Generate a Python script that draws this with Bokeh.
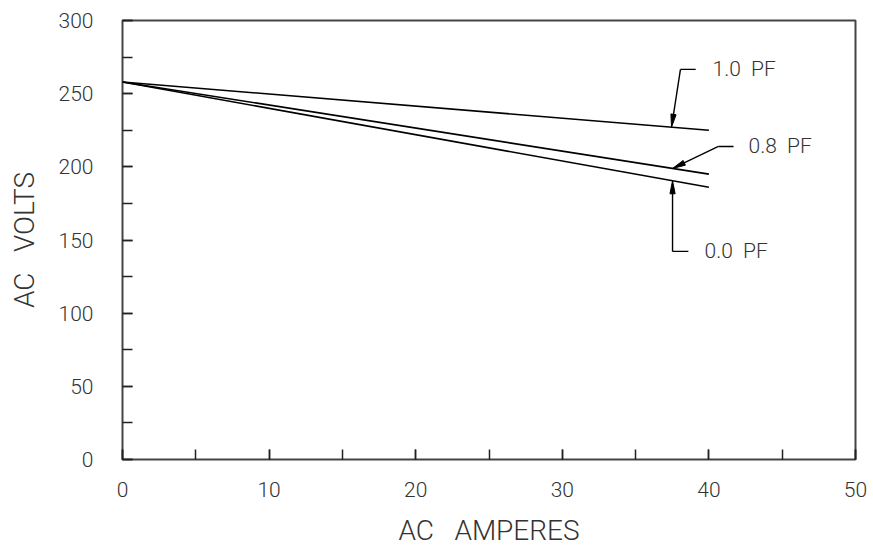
import math
from bokeh.plotting import figure
from bokeh.models import Range1d, Label, FixedTicker
from bokeh.embed import file_html
from bokeh.resources import INLINE

# Data (AC amperes vs AC volts)
amps = [0, 40]
volts_pf10 = [258, 225]
volts_pf08 = [258, 195]
volts_pf00 = [258, 186]

x_ticks = [0, 10, 20, 30, 40, 50]
y_ticks = [0, 50, 100, 150, 200, 250, 300]

FONT = "Roboto Light, Lato Light, Open Sans Light, DejaVu Sans"
TXT = "#333333"
FRAME = "#444444"
GAP = "\u00a0\u00a0\u00a0"

W, H = 873, 549
BL, BR, BT, BB = 122, 18, 20, 90
p = figure(width=W, height=H, output_backend="svg", toolbar_location=None,
           x_range=Range1d(0, 50), y_range=Range1d(0, 300),
           min_border_left=BL, min_border_right=BR, min_border_top=BT, min_border_bottom=BB)
p.grid.grid_line_color = None
p.outline_line_color = FRAME
p.outline_line_width = 2

# pixel per data unit (for shaping callouts only)
PX = (W - BL - BR) / 50.0
PY = (H - BT - BB) / 300.0

for ax in (p.xaxis[0], p.yaxis[0]):
    ax.axis_line_color = None
    ax.major_tick_in = 10
    ax.major_tick_out = 0
    ax.minor_tick_in = 10
    ax.minor_tick_out = 0
    ax.major_tick_line_color = "#222222"
    ax.minor_tick_line_color = "#222222"
    ax.major_tick_line_width = 1.5
    ax.minor_tick_line_width = 1.5
    ax.major_label_text_font = FONT
    ax.major_label_text_font_size = "21px"
    ax.major_label_text_color = TXT
    ax.axis_label_text_font = FONT
    ax.axis_label_text_font_size = "28px"
    ax.axis_label_text_font_style = "normal"
    ax.axis_label_text_color = TXT

p.xaxis.ticker = FixedTicker(ticks=x_ticks, minor_ticks=list(range(0, 51, 5)))
p.yaxis.ticker = FixedTicker(ticks=y_ticks, minor_ticks=list(range(0, 301, 25)))
p.xaxis.axis_label = "AC" + GAP + "AMPERES"
p.yaxis.axis_label = "AC" + GAP + "VOLTS"
p.xaxis.major_label_standoff = 22
p.xaxis.axis_label_standoff = 14
p.yaxis.major_label_standoff = 29
p.yaxis.axis_label_standoff = 15

for ys in (volts_pf10, volts_pf08, volts_pf00):
    p.line(amps, ys, line_color="black", line_width=1.6)

def on_line(ys, x):
    return ys[0] + (ys[1] - ys[0]) * (x - amps[0]) / (amps[1] - amps[0])

def arrow(x0, y0, x1, y1, length=13, half=2.6):
    # slim filled arrowhead drawn in pixel geometry
    dx, dy = (x1 - x0) * PX, (y1 - y0) * PY
    d = math.hypot(dx, dy)
    ux, uy = dx / d, dy / d
    bx, by = -ux * length, -uy * length
    nx, ny = -uy * half, ux * half
    xs = [x1, x1 + (bx + nx) / PX, x1 + (bx - nx) / PX]
    ys = [y1, y1 + (by + ny) / PY, y1 + (by - ny) / PY]
    p.line([x0, x1 + bx / PX * 0.9], [y0, y1 + by / PY * 0.9], line_color="black", line_width=1.4)
    p.patch(xs, ys, fill_color="black", line_color="black", line_width=1)

def callout(pts_line, tip_from, tip_to, text, tx, ty):
    p.line(pts_line[0], pts_line[1], line_color="black", line_width=1.4)
    arrow(*tip_from, *tip_to)
    p.add_layout(Label(x=tx, y=ty, text=text, text_font=FONT, text_font_size="21px",
                       text_color=TXT, text_baseline="middle"))

SP = "\u00a0\u00a0"
# 1.0 PF callout
callout(([39.1, 38.06], [266.6, 266.6]), (38.06, 266.6), (37.45, on_line(volts_pf10, 37.45)),
        "1.0" + SP + "PF", 40.25, 266.6)
# 0.8 PF callout
callout(([41.68, 40.65], [213.9, 213.9]), (40.65, 213.9), (37.52, on_line(volts_pf08, 37.52)),
        "0.8" + SP + "PF", 42.7, 213.9)
# 0.0 PF callout
callout(([38.6, 37.52], [142.2, 142.2]), (37.52, 142.2), (37.52, on_line(volts_pf00, 37.52)),
        "0.0" + SP + "PF", 39.7, 142.2)

open("out.html", "w").write(file_html(p, INLINE))
